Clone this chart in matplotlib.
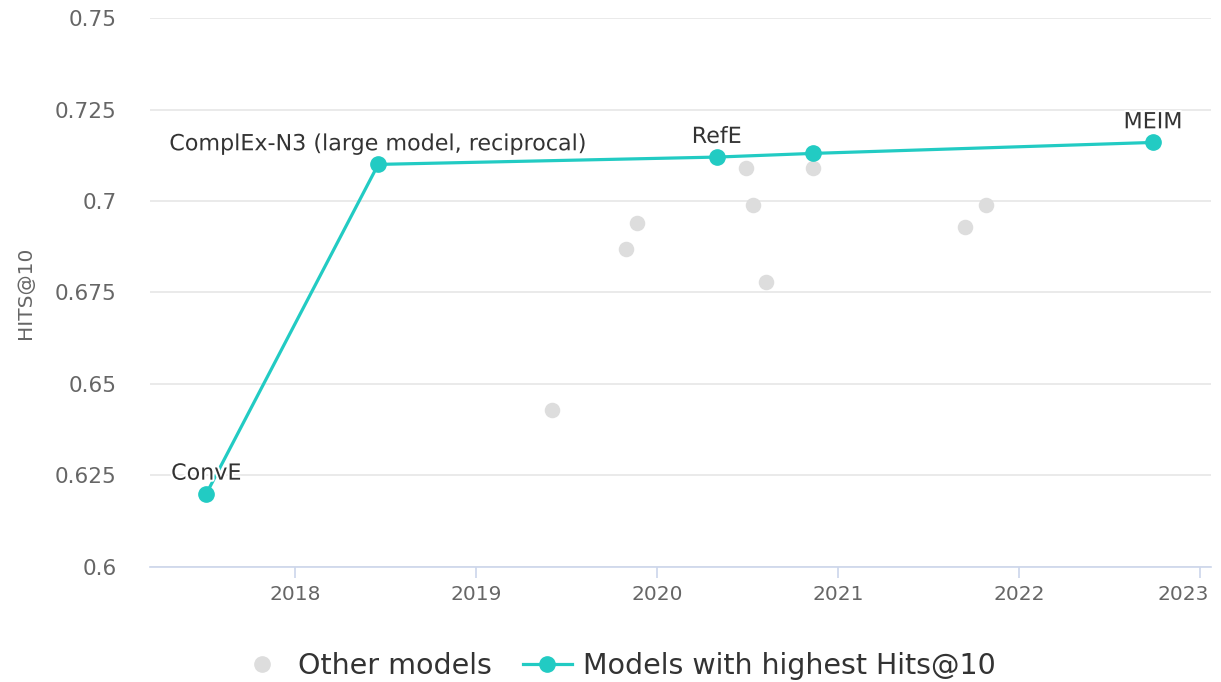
import matplotlib
matplotlib.use("Agg")
import matplotlib.pyplot as plt
import matplotlib.patheffects as pe
import matplotlib.transforms as mtransforms
from matplotlib.lines import Line2D

# Data
other_x = [2019.42, 2019.83, 2019.89, 2020.49, 2020.53, 2020.60, 2020.86, 2021.70, 2021.82]
other_y = [0.643, 0.687, 0.694, 0.709, 0.699, 0.678, 0.709, 0.693, 0.699]

best_x = [2017.51, 2018.46, 2020.33, 2020.86, 2022.74]
best_y = [0.620, 0.710, 0.712, 0.713, 0.716]
best_labels = ["ConvE", "ComplEx-N3 (large model, reciprocal)", "RefE", "", "MEIM"]

y_ticks = [0.6, 0.625, 0.65, 0.675, 0.7, 0.725, 0.75]
y_tick_labels = ["0.6", "0.625", "0.65", "0.675", "0.7", "0.725", "0.75"]
x_ticks = [2018, 2019, 2020, 2021, 2022, 2023]
x_tick_labels = ["2018", "2019", "2020", "2021", "2022", "2023"]

TEAL = "#22cbc3"
GRAY = "#dddddd"

plt.rcParams['font.family'] = ['DejaVu Sans']
fig = plt.figure(figsize=(12.21, 6.82), dpi=100)
ax = fig.add_axes([150/1221, 1-567/682, (1211-150)/1221, (567-18)/682])

ax.set_xlim(2017.199, 2023.061)
ax.set_ylim(0.6, 0.75)

ax.scatter(other_x, other_y, s=125, color=GRAY, zorder=3, linewidths=0)
ax.plot(best_x, best_y, color=TEAL, lw=2.3, marker="o", markersize=11, zorder=4)

for x, y, lab in zip(best_x, best_y, best_labels):
    if lab:
        ax.annotate(lab, (x, y), xytext=(0, 14.5), textcoords="offset points",
                    ha="center", va="center", fontsize=16, color="#333333", zorder=5,
                    path_effects=[pe.withStroke(linewidth=3, foreground="white")])

ax.set_yticks(y_ticks)
ax.set_yticklabels(y_tick_labels)
ax.set_xticks(x_ticks)
ax.set_xticklabels(x_tick_labels)
ax.grid(axis="y", color="#e6e6e6", lw=1.2)
ax.set_axisbelow(True)
for s in ["top", "right", "left"]:
    ax.spines[s].set_visible(False)
ax.spines["bottom"].set_color("#ccd6eb")
ax.spines["bottom"].set_linewidth(1.2)
ax.tick_params(axis="y", length=0, labelsize=15.5, labelcolor="#666666", pad=24)
ax.tick_params(axis="x", length=8, width=1.2, color="#ccd6eb", labelsize=14.5,
               labelcolor="#666666", pad=5)
# keep the last year label inside the figure, as the reference does
last = ax.get_xticklabels()[-1]
last.set_horizontalalignment("right")
last.set_transform(last.get_transform() +
                   mtransforms.ScaledTranslation(9/100, 0, fig.dpi_scale_trans))
ax.set_ylabel("HITS@10", fontsize=14.5, color="#666666", labelpad=14)

handles = [
    Line2D([], [], ls="none", marker="o", markersize=11, color=GRAY),
    Line2D([], [], color=TEAL, lw=2.3, marker="o", markersize=11),
]
fig.legend(handles, ["Other models", "Models with highest Hits@10"],
           loc="center", bbox_to_anchor=(617/1221, 1-666/682), ncol=2, frameon=False,
           fontsize=20.5, labelcolor="#333333", handlelength=1.7, columnspacing=1.1,
           handletextpad=0.4)

fig.savefig("out.png", dpi=100)
